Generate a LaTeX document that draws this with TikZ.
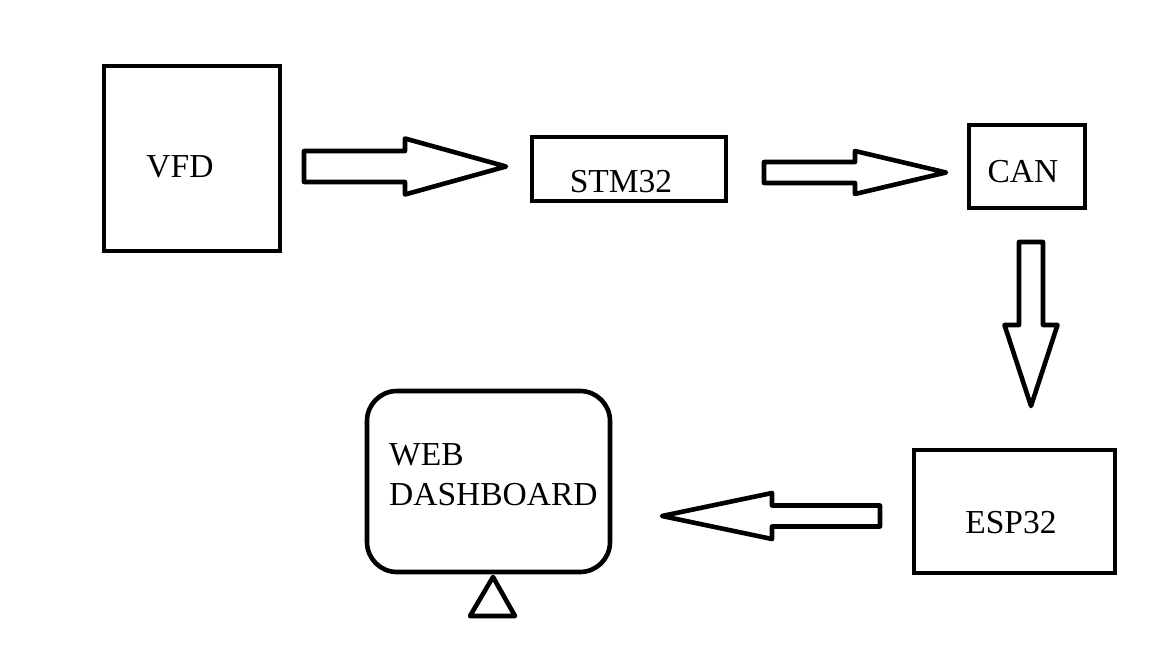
\documentclass[tikz,border=0pt]{standalone}
\usepackage{fontspec}
\setmainfont{Liberation Serif}
\usetikzlibrary{calc, positioning}
\tikzset{
    blockBox/.style={rectangle, draw, line width=4.6pt, inner sep=0pt},
    roundBox/.style={blockBox, rounded corners=30pt},
    boxText/.style={font=\fontsize{33.5}{40}\selectfont, inner sep=0pt, anchor=base},
    blockArrow/.style={draw, line width=4.6pt, line join=round},
}
% tail, tip, shaft half width, head half width, head length
\newcommand{\drawBlock}[5]{
    \coordinate (hb) at ($(#2)!#5!(#1)$);
    \draw[blockArrow] ($(#1)!#3!90:(#2)$) -- ($(hb)!#3!90:(#2)$) -- ($(hb)!#4!90:(#2)$)
        -- (#2) -- ($(hb)!#4!-90:(#2)$) -- ($(hb)!#3!-90:(#2)$) -- ($(#1)!#3!-90:(#2)$) -- cycle;
}

\begin{document}
\begin{tikzpicture}[x=1pt, y=-1pt]
    \useasboundingbox (0,0) rectangle (1152,648);

    \node[blockBox, minimum width=176pt, minimum height=185pt] (vfd) at (192,158.5) {};
    \node[blockBox, minimum width=194pt, minimum height=64pt] (stm) at (629,169) {};
    \node[blockBox, minimum width=116pt, minimum height=83pt] (can) at (1027,166.5) {};
    \node[blockBox, minimum width=201pt, minimum height=123pt] (esp) at (1014.5,511.5) {};
    \node[roundBox, minimum width=243pt, minimum height=181pt] (web) at (488.5,481.5) {};

    \node[boxText] (vfdLabel) at (180,177) {VFD};
    \node[boxText] (stmLabel) at (621,192) {STM32};
    \node[boxText] (canLabel) at (1023,182) {CAN};
    \node[boxText] (espLabel) at (1011,533) {ESP32};
    \node[boxText, anchor=base west] (webLabel) at (389,465) {WEB};
    \node[boxText, anchor=base west] (dashLabel) at (389,505) {DASHBOARD};

    \coordinate (t1) at (304,166.5);  \coordinate (p1) at (506,166.5);
    \coordinate (t2) at (764,172.5);  \coordinate (p2) at (946,172.5);
    \coordinate (t3) at (1031,242);   \coordinate (p3) at (1031,406);
    \coordinate (t4) at (880,516);    \coordinate (p4) at (662,516);

    \drawBlock{t1}{p1}{15.5pt}{28pt}{101pt}
    \drawBlock{t2}{p2}{10.5pt}{21.5pt}{91pt}
    \drawBlock{t3}{p3}{12pt}{26.5pt}{81pt}
    \drawBlock{t4}{p4}{10.5pt}{23pt}{110pt}

    % stand under the dashboard
    \draw[blockArrow] (493,577) -- (515,616) -- (470,616) -- cycle;

\end{tikzpicture}
\end{document}
